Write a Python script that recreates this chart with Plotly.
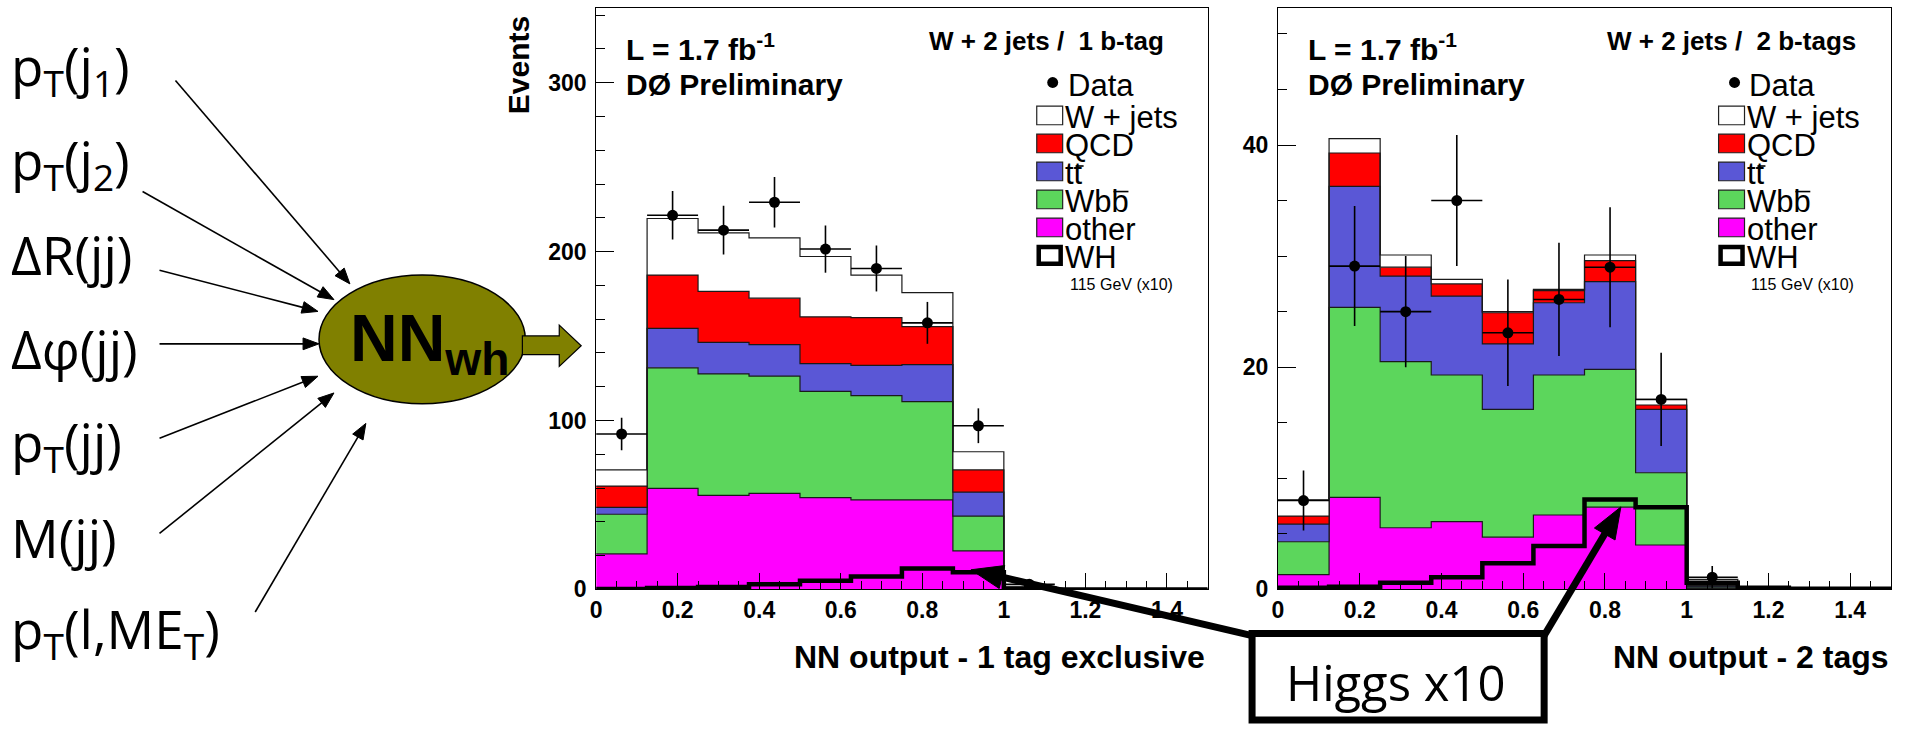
import math
import plotly.graph_objects as go

W, H = 1905, 737

# ---------------- data ----------------
bin_edges = [0, 0.125, 0.25, 0.375, 0.5, 0.625, 0.75, 0.875, 1.0, 1.125, 1.25, 1.375, 1.5]
data_x = [0.0625, 0.1875, 0.3125, 0.4375, 0.5625, 0.6875, 0.8125, 0.9375, 1.0625]

# 1 b-tag exclusive
other_1 = [21.1, 59.8, 55.7, 56.8, 54.4, 53.0, 53.0, 22.8, 0.5, 0, 0, 0]
wbb_1 = [23.4, 71.4, 71.9, 69.5, 62.8, 61.7, 58.2, 20.6, 0.3, 0, 0, 0]
tt_1 = [4.1, 23.3, 18.7, 18.6, 16.5, 17.9, 21.9, 14.2, 0.2, 0, 0, 0]
qcd_1 = [12.6, 31.6, 30.2, 27.5, 27.7, 28.3, 22.5, 13.2, 0.1, 0, 0, 0]
wjets_1 = [9.6, 33.5, 34.6, 35.7, 35.7, 25.2, 20.1, 10.7, 0.4, 0, 0, 0]
wh_1 = [0.2, 0.8, 1.4, 3.1, 5.2, 7.6, 12.4, 10.1, 0.4, 0, 0, 0]
data_1 = [92, 221.5, 212.7, 229.2, 201.5, 190, 157.8, 96.9, 3]
data_err_1 = [9.6, 14.4, 14.4, 15, 14, 13.6, 12.4, 10.3, 1.7]

# 2 b-tags
other_2 = [1.34, 8.28, 5.55, 6.1, 4.7, 6.7, 7.4, 4.0, 0.1, 0, 0, 0]
wbb_2 = [2.95, 17.1, 14.95, 13.2, 11.5, 12.6, 12.4, 6.5, 0.1, 0, 0, 0]
tt_2 = [1.59, 10.9, 7.7, 7.1, 5.9, 6.5, 7.9, 5.7, 0.1, 0, 0, 0]
qcd_2 = [0.72, 3.0, 0.8, 1.1, 2.8, 1.1, 1.9, 0.4, 0.05, 0, 0, 0]
wjets_2 = [1.47, 1.3, 1.1, 0.4, 0.1, 0.1, 0.5, 0.5, 0.55, 0.05, 0, 0]
wh_2 = [0.15, 0.25, 0.6, 1.1, 2.35, 3.9, 8.1, 7.4, 0.6, 0.15, 0.05, 0.05]
data_2 = [8.0, 29.1, 25.0, 35.0, 23.1, 26.1, 29.0, 17.1, 1.1]
data_err_2 = [2.7, 5.4, 5.0, 5.9, 4.8, 5.1, 5.4, 4.2, 1.0]

component_colors = ["#ff00ff", "#5cd65c", "#5a57d6", "#ff0000", "#ffffff"]
legend_labels = ["W + jets", "QCD", "tt", "Wbb", "other"]
legend_colors = ["#ffffff", "#ff0000", "#5a57d6", "#5cd65c", "#ff00ff"]
input_vars = ["p<sub>T</sub>(j<sub>1</sub>)", "p<sub>T</sub>(j<sub>2</sub>)", "\u0394R(jj)",
              "\u0394\u03c6(jj)", "p<sub>T</sub>(jj)", "M(jj)", "p<sub>T</sub>(l,ME<sub>T</sub>)"]

FONT = "Liberation Sans"


def px(x):
    return x / W


def py(y):
    return 1 - y / H


fig = go.Figure()


def add_panel(comps, wh, dat, err, xa, ya):
    cum = [0.0] * len(bin_edges[:-1])
    for i, (vals, col) in enumerate(zip(comps, component_colors)):
        cum = [c + v for c, v in zip(cum, vals)]
        fig.add_trace(go.Scatter(
            x=bin_edges, y=cum + [cum[-1]], mode="lines",
            line=dict(shape="hv", color="#1a1a1a", width=1.2),
            fill="tozeroy" if i == 0 else "tonexty", fillcolor=col,
            xaxis=xa, yaxis=ya, showlegend=False, hoverinfo="skip"))
    fig.add_trace(go.Scatter(
        x=bin_edges, y=wh + [wh[-1]], mode="lines",
        line=dict(shape="hv", color="black", width=4.5),
        xaxis=xa, yaxis=ya, showlegend=False))
    fig.add_trace(go.Scatter(
        x=data_x, y=dat, mode="markers",
        marker=dict(color="black", size=11),
        error_y=dict(type="data", array=err, thickness=1.6, width=0, color="black"),
        error_x=dict(type="constant", value=0.0625, thickness=1.6, width=0, color="black"),
        xaxis=xa, yaxis=ya, showlegend=False))


add_panel([other_1, wbb_1, tt_1, qcd_1, wjets_1], wh_1, data_1, data_err_1, "x", "y")
add_panel([other_2, wbb_2, tt_2, qcd_2, wjets_2], wh_2, data_2, data_err_2, "x2", "y2")

tickfont = dict(family=FONT, size=23, color="black", weight="bold")


def xaxis_cfg(dom):
    return dict(domain=dom, range=[0, 1.5], showline=True, linecolor="black", linewidth=1,
                mirror=True, ticks="inside", ticklen=16, tickwidth=1, tickcolor="black",
                tick0=0, dtick=0.2, showgrid=False, zeroline=False, tickfont=tickfont,
                minor=dict(ticks="inside", ticklen=8, dtick=0.05, tickcolor="black", tickwidth=1, showgrid=False),
                fixedrange=True)


def yaxis_cfg(dom, rng, dt, mdt, anchor):
    return dict(domain=dom, range=rng, showline=True, linecolor="black", linewidth=1,
                mirror=True, ticks="inside", ticklen=18, tickwidth=1, tickcolor="black",
                tick0=0, dtick=dt, showgrid=False, zeroline=False, tickfont=tickfont,
                minor=dict(ticks="inside", ticklen=9, dtick=mdt, tickcolor="black", tickwidth=1, showgrid=False),
                anchor=anchor, fixedrange=True, ticklabelstandoff=4)


ydom = [py(600), py(8.5)]
fig.update_layout(
    width=W, height=H, autosize=False,
    margin=dict(l=0, r=0, t=0, b=0),
    paper_bgcolor="white", plot_bgcolor="white",
    xaxis=xaxis_cfg([px(592), px(1205.5)]) | dict(anchor="y"),
    yaxis=yaxis_cfg(ydom, [0, 344], 100, 20, "x"),
    xaxis2=xaxis_cfg([px(1276), px(1891)]) | dict(anchor="y2"),
    yaxis2=yaxis_cfg(ydom, [0, 52.3], 20, 5, "x2"),
    showlegend=False,
)

annotations = []
shapes = []


def ann(text, x, y, size, xanchor="left", bold=False, family=FONT, angle=0, yanchor="middle"):
    annotations.append(dict(
        text=text, x=px(x), y=py(y), xref="paper", yref="paper", showarrow=False,
        xanchor=xanchor, yanchor=yanchor, textangle=angle,
        font=dict(family=family, size=size, color="black", weight="bold" if bold else "normal")))


def hline(x0, x1, y, width=1.6):
    shapes.append(dict(type="line", xref="paper", yref="paper",
                       x0=px(x0), x1=px(x1), y0=py(y), y1=py(y),
                       line=dict(color="black", width=width), layer="above"))


def arrow(x0, y0, x1, y1, width, hl, hw):
    dx, dy = x1 - x0, y1 - y0
    L = math.hypot(dx, dy)
    ux, uy = dx / L, dy / L
    bx, by = x1 - ux * hl, y1 - uy * hl
    shapes.append(dict(type="line", xref="paper", yref="paper",
                       x0=px(x0), y0=py(y0), x1=px(bx + ux * 2), y1=py(by + uy * 2),
                       line=dict(color="black", width=width), layer="above"))
    nx, ny = -uy, ux
    pts = [(x1, y1), (bx + nx * hw / 2, by + ny * hw / 2), (bx - nx * hw / 2, by - ny * hw / 2)]
    path = "M " + " L ".join(f"{px(a):.5f},{py(b):.5f}" for a, b in pts) + " Z"
    shapes.append(dict(type="path", xref="paper", yref="paper", path=path,
                       fillcolor="black", line=dict(color="black", width=1), layer="above"))


# ---------- panel texts ----------
for dx, tag in [(0, "W + 2 jets /\u00a0 1 b-tag"), (684, "W + 2 jets /\u00a0 2 b-tags")]:
    ann("L = 1.7 fb<sup>-1</sup>", 620 + dx, 48, 30, bold=True)
    ann("D\u00d8 Preliminary", 620 + dx, 86, 30, bold=True)
    ann(tag, 1164 + dx + (10 if dx else 0), 42, 26, xanchor="right", bold=True)
    # legend
    shapes.append(dict(type="circle", xref="paper", yref="paper",
                       x0=px(1044.5 + dx), x1=px(1055.5 + dx), y0=py(78.5), y1=py(89.5),
                       fillcolor="black", line=dict(color="black", width=0), layer="above"))
    ann("Data", 1063 + dx, 87, 31)
    for i, (lab, col) in enumerate(zip(legend_labels, legend_colors)):
        top = 108 + 28.5 * i
        shapes.append(dict(type="rect", xref="paper", yref="paper",
                           x0=px(1034 + dx), x1=px(1060 + dx), y0=py(top), y1=py(top + 19),
                           fillcolor=col, line=dict(color="#222", width=1.2), layer="above"))
        ann(lab, 1060 + dx, top + 12, 31)
    # bars over the second t and second b
    hline(1073 + dx, 1081 + dx, 169, 1.6)
    hline(1111 + dx, 1126 + dx, 195, 1.6)
    top = 108 + 28.5 * 5
    shapes.append(dict(type="rect", xref="paper", yref="paper",
                       x0=px(1036 + dx), x1=px(1058 + dx), y0=py(top + 1), y1=py(top + 18),
                       fillcolor="white", line=dict(color="black", width=4.5), layer="above"))
    ann("WH", 1060 + dx, top + 12, 31)
    ann("115 GeV (x10)", 1065 + dx, 290, 16)

ann("NN output - 1 tag exclusive", 1205, 669, 32, xanchor="right", bold=True)
ann("NN output - 2 tags", 1891, 669, 32, xanchor="right", bold=True)
ann("Events", 514, 66, 30, xanchor="center", bold=True, angle=-90)

# ---------- left diagram ----------
label_y = [70, 165, 259, 355, 452, 547, 643]
for lab, yy in zip(input_vars, label_y):
    ann(lab, 3, yy, 53, family="Open Sans")

tails = [(170, 82), (137, 195), (154, 275), (154, 350), (154, 446), (154, 543), (250, 623)]
heads = [(345, 289), (329, 305), (313, 317), (314, 350), (313, 383), (329, 400), (361, 431)]
for (tx, ty), (hx, hy) in zip(tails, heads):
    arrow(tx, ty, hx, hy, 1.6, 16, 12)

shapes.append(dict(type="circle", xref="paper", yref="paper",
                   x0=px(314), x1=px(521), y0=py(411), y1=py(280),
                   fillcolor="#808000", line=dict(color="black", width=1.5), layer="above"))
ann("NN<sub>wh</sub>", 425, 349, 66, xanchor="center", bold=True, family=FONT)

fat = [(518, 342), (555, 342), (555, 331), (577, 352), (555, 373), (555, 361), (518, 361)]
shapes.append(dict(type="path", xref="paper", yref="paper",
                   path="M " + " L ".join(f"{px(a):.5f},{py(b):.5f}" for a, b in fat) + " Z",
                   fillcolor="#808000", line=dict(color="black", width=1.2), layer="above"))

# ---------- Higgs x10 callout ----------
arrow(1250, 647, 968, 580, 7, 32, 24)
arrow(1543, 647, 1620, 516, 7, 32, 24)
shapes.append(dict(type="rect", xref="paper", yref="paper",
                   x0=px(1250), x1=px(1543), y0=py(733), y1=py(645),
                   fillcolor="white", line=dict(color="black", width=7), layer="above"))
ann("Higgs x10", 1394, 694, 49, xanchor="center", family="Open Sans")

fig.update_layout(annotations=annotations, shapes=shapes)
fig.write_html("out.html")
